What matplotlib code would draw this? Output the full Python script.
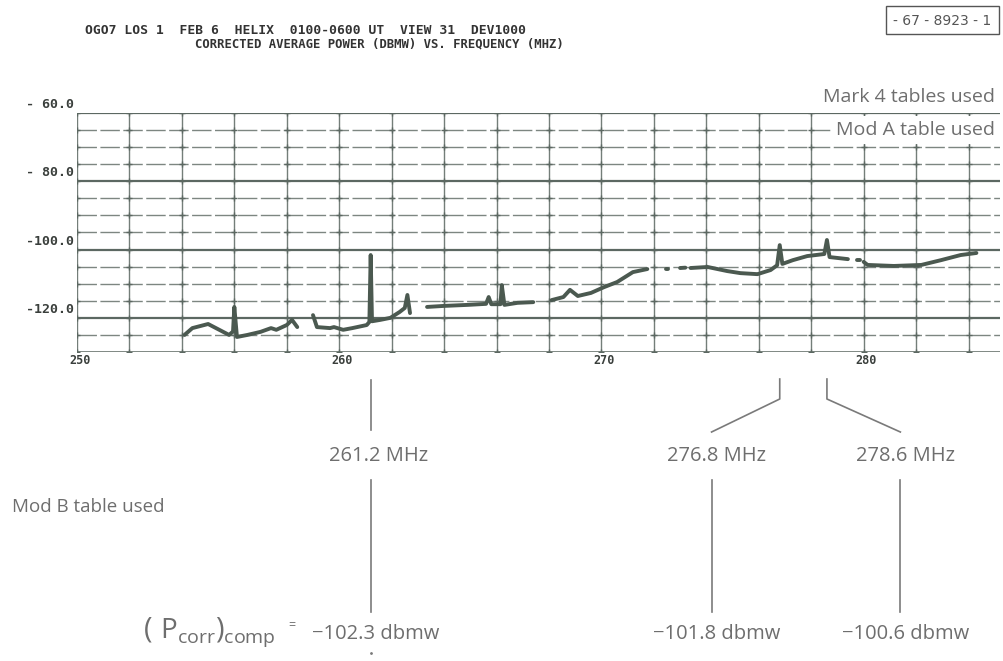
import matplotlib
matplotlib.use("Agg")
import matplotlib.pyplot as plt
import matplotlib.transforms as mtransforms
from matplotlib.patches import Rectangle
import numpy as np

# участки записи мощности (МГц, дБмВт), между ними разрывы
seg1_f = [254.1, 254.4, 255.0, 255.3, 255.8, 255.95, 256.0, 256.1, 256.5, 257.0, 257.4, 257.6, 258.0, 258.2, 258.4]
seg1_p = [-125.0, -123.0, -121.8, -123.0, -125.0, -124.0, -116.8, -125.6, -125.0, -124.1, -123.0, -123.5, -122.1, -120.6, -122.7]
seg2_f = [259.0, 259.15, 259.65, 259.8, 260.15, 260.5, 261.05, 261.15, 261.2, 261.25, 261.56, 261.95, 262.3, 262.5, 262.6, 262.7]
seg2_p = [-119.2, -122.7, -123.0, -122.7, -123.5, -123.0, -122.1, -121.2, -101.6, -121.0, -120.6, -120.0, -118.3, -117.1, -113.3, -118.6]
seg3_f = [263.35, 264.0, 264.9, 265.6, 265.7, 265.8, 266.15, 266.2, 266.3, 266.8, 267.4]
seg3_p = [-116.8, -116.5, -116.2, -115.9, -113.9, -116.0, -116.0, -110.4, -116.2, -115.6, -115.4]
seg4_f = [268.1, 268.55, 268.8, 269.1, 269.6, 270.1, 270.6, 271.2, 271.75]
seg4_p = [-114.8, -113.9, -111.8, -113.6, -112.7, -111.0, -109.5, -106.6, -105.7]
seg5_f = [273.4, 274.05, 274.8, 275.3, 275.95, 276.45, 276.7, 276.8, 276.9, 277.3, 277.85, 278.5, 278.6, 278.7, 279.4]
seg5_p = [-105.4, -105.1, -106.3, -106.9, -107.2, -106.0, -104.6, -98.7, -104.2, -103.1, -101.9, -101.3, -97.2, -102.2, -102.8]
seg6_f = [280.0, 280.15, 281.15, 282.2, 282.95, 283.7, 284.3]
seg6_p = [-103.6, -104.5, -104.8, -104.5, -103.1, -101.6, -101.0]
# короткие куски в разрывах
bits_f = [[272.45, 272.55], [273.0, 273.2], [279.75, 279.85]]
bits_p = [[-105.6, -105.6], [-105.4, -105.3], [-103.0, -103.0]]

# отмеченные линии и скорректированная мощность
mark_freq = [261.2, 276.8, 278.6]
mark_power = [-102.3, -101.8, -100.6]
# куда уводятся подписи (МГц)
label_x = [261.5, 274.4, 281.6]
lower_x = [261.2, 274.2, 281.4]

y_ticks = [-60, -80, -100, -120]
y_tick_labels = ["- 60.0", "- 80.0", "-100.0", "-120.0"]
x_ticks = [250, 260, 270, 280]

grid_c = "#5c6862"
curve_c = "#4b5950"
text_c = "#6e6e6e"
sans = ["Open Sans", "DejaVu Sans"]

plt.rcParams["mathtext.fontset"] = "custom"
plt.rcParams["mathtext.rm"] = "Open Sans"

fig = plt.figure(figsize=(10.04, 6.61), dpi=100)
ax = fig.add_axes([77 / 1004, 1 - 352 / 661, 923 / 1004, 239 / 661])
ax.set_xlim(250, 285.2)
ax.set_ylim(-130, -60)
ax.axis("off")

# сетка: каждые 5 дБ и 2 МГц
for v in np.arange(-60, -131, -5):
    if v % 20 == 0:
        ax.axhline(v, color=grid_c, lw=1.6, zorder=1)
    elif v == -130:
        ax.axhline(v, color=grid_c, lw=1.1, zorder=1)
    else:
        ax.axhline(v, color=grid_c, lw=1.0, alpha=0.8, dashes=(14, 2.5), zorder=1)
vx = np.arange(250, 285, 2)
for x in vx:
    ax.axvline(x, color=grid_c, lw=1.0, alpha=0.85, zorder=1)
gx, gy = np.meshgrid(vx, np.arange(-60, -131, -5))
ax.plot(gx.ravel(), gy.ravel(), "+", color=grid_c, ms=5, mew=1.0, zorder=2)

# кривая мощности
for f, p in [(seg1_f, seg1_p), (seg2_f, seg2_p), (seg3_f, seg3_p), (seg4_f, seg4_p),
             (seg5_f, seg5_p), (seg6_f, seg6_p)] + list(zip(bits_f, bits_p)):
    ax.plot(f, p, color=curve_c, lw=2.8, solid_capstyle="round", solid_joinstyle="round", zorder=4)

# подписи осей
lab = dict(family="DejaVu Sans Mono", weight="bold", color="#3a3f3c")
ytr = mtransforms.blended_transform_factory(fig.transFigure, ax.transData)
for v, s in zip(y_ticks, y_tick_labels):
    ax.text(74 / 1004, v + 0.6, s, transform=ytr, ha="right", va="bottom", fontsize=9.5, **lab)
xtr = mtransforms.blended_transform_factory(ax.transData, fig.transFigure)
for v in x_ticks:
    ax.text(v + 0.1, 1 - 361 / 661, str(v), transform=xtr, ha="center", va="center", fontsize=8.5, **lab)

# заголовок
fig.text(85 / 1004, 1 - 30 / 661, "OGO7 LOS 1  FEB 6  HELIX  0100-0600 UT  VIEW 31  DEV1000",
         ha="left", va="center", family="DejaVu Sans Mono", weight="bold", fontsize=9.4, color="#333333")
fig.text(195 / 1004, 1 - 44 / 661, "CORRECTED AVERAGE POWER (DBMW) VS. FREQUENCY (MHZ)",
         ha="left", va="center", family="DejaVu Sans Mono", weight="bold", fontsize=8.8, color="#333333")

# номер рисунка в рамке
fig.add_artist(Rectangle((886 / 1004, 1 - 34 / 661), 113 / 1004, 28 / 661, transform=fig.transFigure,
                         fill=False, edgecolor="#555555", lw=1.0))
fig.text(942 / 1004, 1 - 21 / 661, "- 67 - 8923 - 1", ha="center", va="center",
         family="DejaVu Sans", fontsize=10, color="#555555")

fig.text(995 / 1004, 1 - 97 / 661, "Mark 4 tables used", ha="right", va="center",
         family=sans, fontsize=14, color=text_c)
ax.text(995 / 1004, 1 - 130 / 661, "Mod A table used", transform=fig.transFigure, ha="right", va="center",
        family=sans, fontsize=14, color=text_c, zorder=3,
        bbox=dict(boxstyle="square,pad=0.25", facecolor="white", edgecolor="none"))
fig.text(12 / 1004, 1 - 507 / 661, "Mod B table used", ha="left", va="center",
         family=sans, fontsize=13.5, color=text_c)


def fy(y):
    return 1 - y / 661


# выноски к отмеченным частотам
lk = dict(color="#7a7a7a", lw=1.2, transform=xtr, clip_on=False)
f0 = mark_freq[0]
ax.plot([f0, f0], [fy(380), fy(430)], **lk)
for i, f in enumerate(mark_freq):
    if i > 0:
        ax.plot([f, f, lower_x[i]], [fy(379), fy(399), fy(432)], **lk)
    ax.plot([lower_x[i], lower_x[i]], [fy(480), fy(612)], **lk)
    ax.text(label_x[i], fy(456), f"{f:.1f} MHz", transform=xtr, ha="center", va="center",
            family=sans, fontsize=14.5, color=text_c)
    ax.text(lower_x[i] + 0.2, fy(634), f"\u2212{abs(mark_power[i]):.1f} dbmw", transform=xtr,
            ha="center", va="center", family=sans, fontsize=14.5, color=text_c)
ax.plot([f0], [fy(653)], ".", ms=2, color="#7a7a7a", transform=xtr, clip_on=False)

fig.text(143 / 1004, 1 - 632 / 661, r"$\left(\ \mathrm{P}_{\mathrm{corr}}\right)_{\mathrm{comp}}$",
         ha="left", va="center", fontsize=20, color=text_c)
fig.text(292 / 1004, 1 - 626 / 661, "=", ha="center", va="center", family=sans, fontsize=9, color=text_c)

fig.savefig("out.png", dpi=100, facecolor="white")
